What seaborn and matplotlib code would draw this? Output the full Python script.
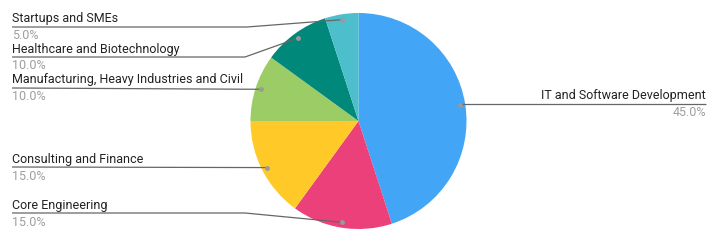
import matplotlib
matplotlib.use("Agg")
import matplotlib.pyplot as plt
import seaborn as sns
import numpy as np

sns.set_theme(style="white")
plt.rcParams['font.family'] = ['Roboto', 'DejaVu Sans']

categories = ["IT and Software Development", "Core Engineering", "Consulting and Finance",
              "Manufacturing, Heavy Industries and Civil", "Healthcare and Biotechnology",
              "Startups and SMEs"]
values = [45.0, 15.0, 15.0, 10.0, 10.0, 5.0]
colors = ["#42A5F5", "#EC407A", "#FFCA28", "#9CCC65", "#00897B", "#4DBFCC"]

W, H = 718, 241
fig = plt.figure(figsize=(W / 100, H / 100), dpi=100)
cx, cy, R = 358.5, 121.0, 108.0
ax = fig.add_axes([(cx - R) / W, (H - cy - R) / H, 2 * R / W, 2 * R / H])
wedges, _ = ax.pie(values, colors=colors, startangle=90, counterclock=False,
                   radius=1.0, wedgeprops=dict(linewidth=0))
ax.set_xlim(-1, 1)
ax.set_ylim(-1, 1)
ax.set_aspect('auto')
ax.axis('off')

def d(px, py):
    return ((px - cx) / R, (cy - py) / R)

# label layout: (line y, text x, side, elbow x)
layout = {
    0: (104, 706, 'right', None),
    1: (213, 12, 'left', 245),
    2: (167, 12, 'left', None),
    3: (88, 12, 'left', None),
    4: (57, 12, 'left', 245),
    5: (27, 12, 'left', 247),
}
line_col = "#666666"
for i, w in enumerate(wedges):
    ang = np.deg2rad((w.theta1 + w.theta2) / 2)
    dx, dy = 0.95 * np.cos(ang), 0.95 * np.sin(ang)
    ly, tx, side, elbow = layout[i]
    _, yd = d(0, ly)
    xt, _ = d(tx, 0)
    if side == 'right':
        xs = [dx, xt]
        ys = [dy, yd]
        ys = [yd, yd]
        ha = 'right'
    else:
        if elbow is not None:
            xe, _ = d(elbow, 0)
            xs = [xt, xe, dx]
            ys = [yd, yd, dy]
        else:
            xs = [xt, dx]
            ys = [yd, dy]
        ha = 'left'
    ax.plot(xs, ys, color=line_col, lw=0.9, clip_on=False, solid_capstyle='butt')
    ax.plot([dx], [dy], 'o', ms=2.5, color="#9a9a9a", clip_on=False)
    _, yt1 = d(0, ly - 8)
    _, yt2 = d(0, ly + 9)
    ax.text(xt, yt1, categories[i], ha=ha, va='center', fontsize=9, color="#222222",
            clip_on=False)
    ax.text(xt, yt2, f"{values[i]:.1f}%", ha=ha, va='center', fontsize=9, color="#9e9e9e",
            clip_on=False)

fig.savefig("out.png", dpi=100)
